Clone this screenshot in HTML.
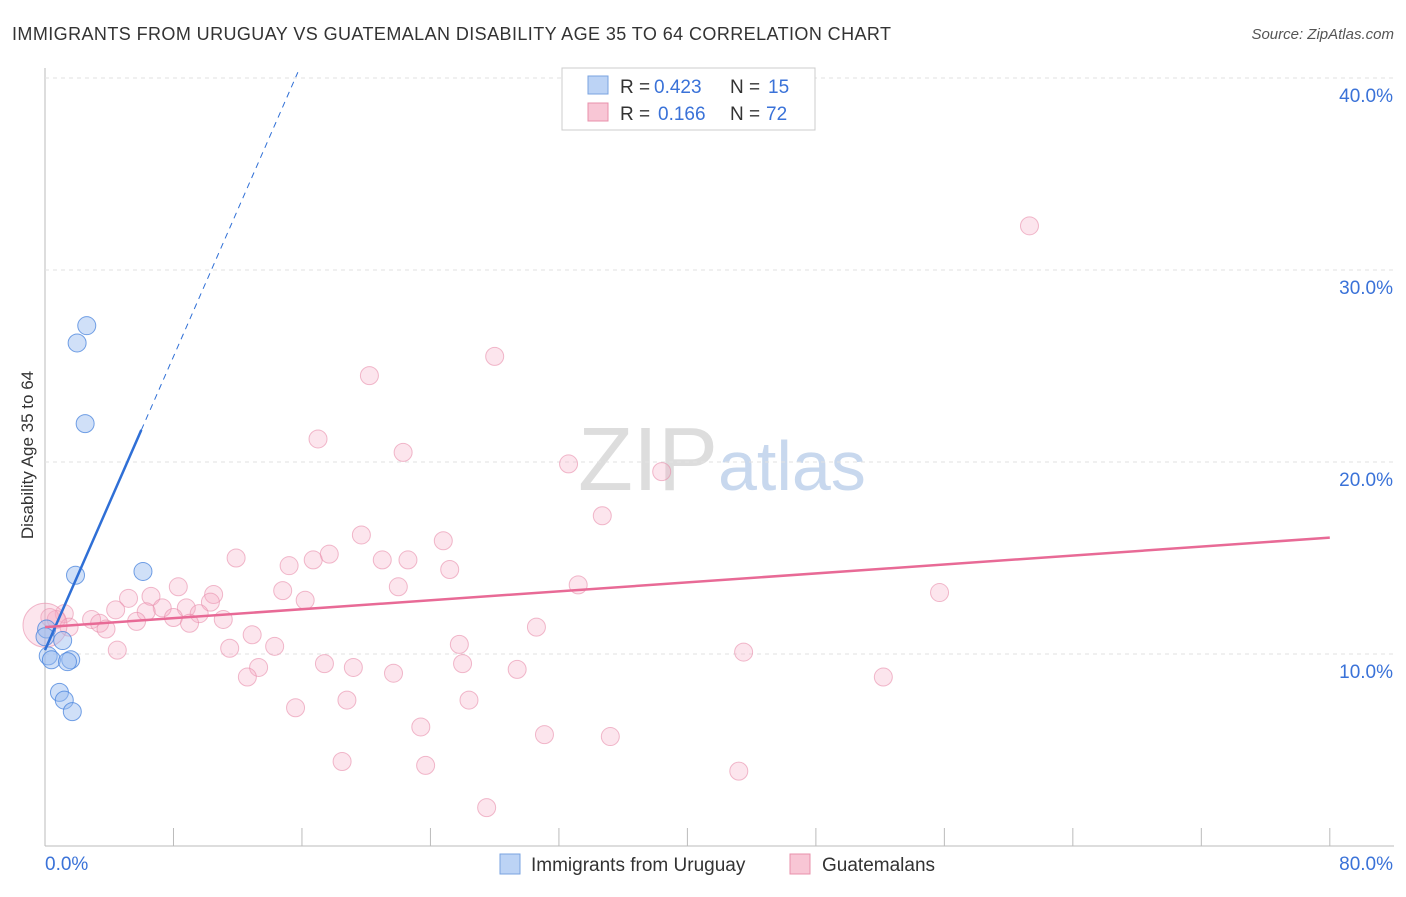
<!DOCTYPE html>
<html><head><meta charset="utf-8"><style>
body{margin:0;background:#fff;font-family:"Liberation Sans",sans-serif;}
svg text{font-family:"Liberation Sans",sans-serif;}
</style></head><body>
<svg id="c" width="1406" height="892">
<text x="12" y="40" font-size="18" fill="#333" textLength="879">IMMIGRANTS FROM URUGUAY VS GUATEMALAN DISABILITY AGE 35 TO 64 CORRELATION CHART</text>
<text x="1394" y="39" font-size="15" fill="#555" text-anchor="end" font-style="italic">Source: ZipAtlas.com</text>
<text x="33" y="455" font-size="17" fill="#333" text-anchor="middle" transform="rotate(-90 33 455)">Disability Age 35 to 64</text>
<text x="718" y="490" font-size="90" fill="#ddd" text-anchor="end" font-family="Liberation Serif">ZIP</text>
<text x="718" y="490" font-size="70" fill="#c8d8ee">atlas</text>
<g id="grid"></g><g id="pts"></g><g id="lines"></g>
<g>
<rect x="562" y="68" width="253" height="62" fill="#fff" stroke="#ccc"/>
<rect x="588" y="76" width="20" height="18" fill="#bcd3f5" stroke="#7aa3e0"/>
<rect x="588" y="103" width="20" height="18" fill="#f8c6d5" stroke="#e890ab"/>
<text x="620" y="93" font-size="19" fill="#333">R =</text><text x="654" y="93" font-size="19" fill="#3a72d8">0.423</text>
<text x="730" y="93" font-size="19" fill="#333">N =</text><text x="768" y="93" font-size="19" fill="#3a72d8">15</text>
<text x="620" y="120" font-size="19" fill="#333">R =</text><text x="658" y="120" font-size="19" fill="#3a72d8">0.166</text>
<text x="730" y="120" font-size="19" fill="#333">N =</text><text x="766" y="120" font-size="19" fill="#3a72d8">72</text>
</g>
<g>
<rect x="500" y="854" width="20" height="20" fill="#bcd3f5" stroke="#7aa3e0"/>
<text x="531" y="871" font-size="19" fill="#333">Immigrants from Uruguay</text>
<rect x="790" y="854" width="20" height="20" fill="#f8c6d5" stroke="#e890ab"/>
<text x="822" y="871" font-size="19" fill="#333">Guatemalans</text>
</g>
</svg>
<script>
const xTicks=[0,8,16,24,32,40,48,56,64,72,80];
const yTicks=[10,20,30,40];
const blueX=[2.6,2.0,2.5,1.9,6.1,0.1,1.1,0.2,0.4,1.6,1.4,0.9,1.2,1.7,0.0];
const blueY=[27.1,26.2,22.0,14.1,14.3,11.3,10.7,9.9,9.7,9.7,9.6,8.0,7.6,7.0,10.9];
const pinkX=[61.3,28.0,20.2,17.0,22.3,32.6,38.4,34.7,19.7,24.8,11.9,17.7,21.0,22.6,15.2,16.7,25.2,8.3,33.2,22.0,55.7,10.5,14.8,5.2,6.6,16.2,10.3,8.8,7.3,4.4,6.3,9.6,1.2,8.0,0.7,11.1,2.9,5.7,3.4,9.0,1.5,3.8,30.6,12.9,25.8,14.3,4.5,11.5,43.5,17.4,26.0,19.2,13.3,29.4,21.7,12.6,52.2,18.8,26.4,15.6,23.4,31.1,35.2,18.5,23.7,43.2,27.5,0.3,0.0];
const pinkY=[32.3,25.5,24.5,21.2,20.5,19.9,19.5,17.2,16.2,15.9,15.0,15.2,14.9,14.9,14.6,14.9,14.4,13.5,13.6,13.5,13.2,13.1,13.3,12.9,13.0,12.8,12.7,12.4,12.4,12.3,12.2,12.1,12.1,11.9,11.8,11.8,11.8,11.7,11.6,11.6,11.4,11.3,11.4,11.0,10.5,10.4,10.2,10.3,10.1,9.5,9.5,9.3,9.3,9.2,9.0,8.8,8.8,7.6,7.6,7.2,6.2,5.8,5.7,4.4,4.2,3.9,2.0,11.9,11.5];
const bigPinkIdx=68;
const blueFit=[0,10.2,6.0,21.67];
const pinkFit=[0,11.4,80,16.06];
const X=v=>45+v*16.06, Y=v=>846-v*19.2;
const NS="http://www.w3.org/2000/svg";
function mk(tag,attrs,parent){const e=document.createElementNS(NS,tag);for(const k in attrs)e.setAttribute(k,attrs[k]);parent.appendChild(e);return e;}
const grid=document.getElementById('grid');
mk('line',{x1:45,y1:68,x2:45,y2:846,stroke:'#bbb'},grid);
mk('line',{x1:45,y1:846,x2:1394,y2:846,stroke:'#bbb'},grid);
for(const t of yTicks){
 const g=mk('line',{x1:45,y1:Y(t),x2:1394,y2:Y(t),stroke:'#e2e2e2','stroke-dasharray':'4,4'},grid);
 
 
 const tx=mk('text',{x:1393,y:Y(t)+24,'font-size':19,fill:'#3a72d8','text-anchor':'end'},grid);
 tx.textContent=t.toFixed(1)+'%';
 
 
}
for(const t of xTicks){
 if(t==0)continue;
 const l=mk('line',{x1:X(t),y1:828,x2:X(t),y2:846,stroke:'#bbb'},grid);
 
 
}
for(const [t,a] of [[0,'start'],[80,'end']]){
 const tx=mk('text',{x:t==0?45:1393,y:870,'font-size':19,fill:'#3a72d8','text-anchor':a},grid);
 tx.textContent=t.toFixed(1)+'%';
 
 
}
const pts=document.getElementById('pts');
pinkX.forEach((x,i)=>{
 const c=mk('circle',{cx:X(x),cy:Y(pinkY[i]),r:i==bigPinkIdx?22:9,fill:'rgba(244,170,195,0.3)',stroke:'rgba(232,140,170,0.6)'},pts);
 
 
});
blueX.forEach((x,i)=>{
 const c=mk('circle',{cx:X(x),cy:Y(blueY[i]),r:9,fill:'rgba(150,186,240,0.45)',stroke:'rgba(70,130,220,0.75)'},pts);
 
 
});
const lines=document.getElementById('lines');
const bs=(blueFit[3]-blueFit[1])/(blueFit[2]-blueFit[0]);
const xEnd=(40.3-blueFit[1])/bs;
let l=mk('line',{x1:X(blueFit[0]),y1:Y(blueFit[1]),x2:X(blueFit[2]),y2:Y(blueFit[3]),stroke:'#2f6fd6','stroke-width':2.5},lines);


l=mk('line',{x1:X(blueFit[2]),y1:Y(blueFit[3]),x2:X(xEnd),y2:Y(40.3),stroke:'#2f6fd6','stroke-width':1,'stroke-dasharray':'6,5'},lines);


l=mk('line',{x1:X(pinkFit[0]),y1:Y(pinkFit[1]),x2:X(pinkFit[2]),y2:Y(pinkFit[3]),stroke:'#e86a96','stroke-width':2.5},lines);


</script>
</body></html>
